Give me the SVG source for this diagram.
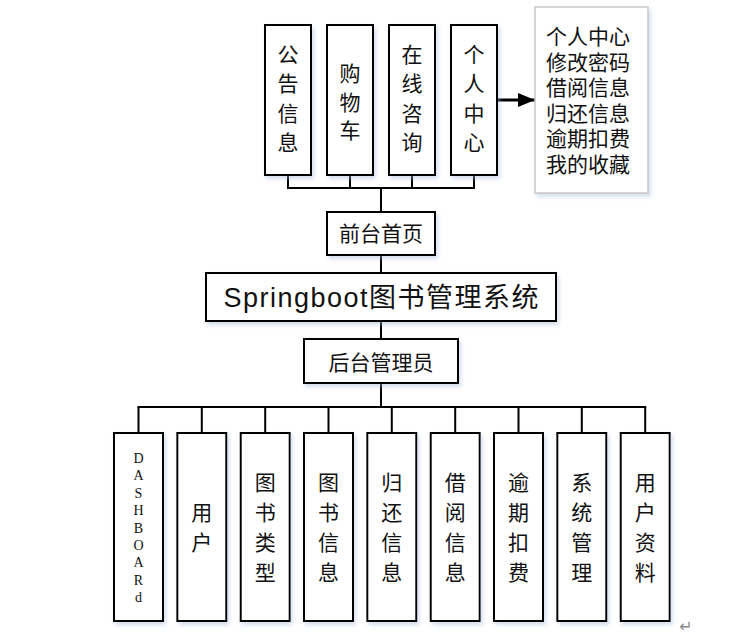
<svg xmlns="http://www.w3.org/2000/svg" width="744" height="639" viewBox="0 0 744 639">
<style>
.box{fill:#fff;stroke:#000;stroke-width:2;filter:url(#sh)}
.call{fill:#fff;stroke:#c8c8c8;stroke-width:1.5;filter:url(#sh)}
.t{font-family:"Liberation Sans","Noto Sans CJK SC","Noto Sans CJK JP",sans-serif;font-size:21px;fill:#111;text-anchor:middle}
.tl{font-family:"Liberation Sans","Noto Sans CJK SC","Noto Sans CJK JP",sans-serif;font-size:21px;fill:#111}
.m{font-family:"Liberation Serif","DejaVu Serif",serif;font-size:14px;fill:#111;text-anchor:middle}
.ln{fill:none;stroke:#000;stroke-width:2}
</style>
<defs>
<filter id="sh" x="-20%" y="-20%" width="150%" height="150%">
<feDropShadow dx="2" dy="3" stdDeviation="2" flood-color="#9fb3d9" flood-opacity="0.45"/>
</filter>
<marker id="arr" markerWidth="18" markerHeight="16" refX="17" refY="8" orient="auto" markerUnits="userSpaceOnUse">
<polygon points="0,1 17,8 0,15" fill="#000"/>
</marker>
</defs>

<g id="connectors">
<path class="ln" d="M288,175V188M350,175V188M412,175V188M474,175V188M287,188H475"/>
<path class="ln" d="M381,188V212M381,255V273M381,321V339M381,383V407"/>
<path class="ln" d="M137.5,407H646.2"/>
<path class="ln" d="M138.5,407V433M201.8,407V433M265.2,407V433M328.5,407V433M391.8,407V433M455.2,407V433M518.5,407V433M581.8,407V433M645.2,407V433"/>
<line x1="497" y1="100" x2="535" y2="100" stroke="#000" stroke-width="3" marker-end="url(#arr)"/>
</g>

<g id="n-gonggao"><rect class="box" x="265" y="25" width="46" height="150"/>
<text class="t"><tspan x="288" y="61.5">公</tspan><tspan x="288" y="91">告</tspan><tspan x="288" y="120.5">信</tspan><tspan x="288" y="150">息</tspan></text></g>
<g id="n-gouwuche"><rect class="box" x="327" y="25" width="46" height="150"/>
<text class="t"><tspan x="350" y="81">购</tspan><tspan x="350" y="109.5">物</tspan><tspan x="350" y="138">车</tspan></text></g>
<g id="n-zixun"><rect class="box" x="389" y="25" width="46" height="150"/>
<text class="t"><tspan x="412" y="61.5">在</tspan><tspan x="412" y="91">线</tspan><tspan x="412" y="120.5">咨</tspan><tspan x="412" y="150">询</tspan></text></g>
<g id="n-geren"><rect class="box" x="451" y="25" width="46" height="150"/>
<text class="t"><tspan x="474" y="61.5">个</tspan><tspan x="474" y="91">人</tspan><tspan x="474" y="120.5">中</tspan><tspan x="474" y="150">心</tspan></text></g>

<g id="n-geren-detail"><rect class="call" x="535" y="7" width="113" height="186"/>
<text class="tl"><tspan x="546" y="44">个人中心</tspan><tspan x="546" y="69.6">修改密码</tspan><tspan x="546" y="95.2">借阅信息</tspan><tspan x="546" y="120.8">归还信息</tspan><tspan x="546" y="146.4">逾期扣费</tspan><tspan x="546" y="172">我的收藏</tspan></text></g>

<g id="n-qiantai"><rect class="box" x="327" y="212" width="108" height="43"/>
<text class="t" x="381" y="241">前台首页</text></g>

<g id="n-title"><rect class="box" x="206" y="273" width="350" height="48"/>
<text x="381" y="307" text-anchor="middle" textLength="315" lengthAdjust="spacing" style="font-family:'Liberation Sans','Noto Sans CJK SC','Noto Sans CJK JP',sans-serif;font-size:27px;fill:#111">Springboot图书管理系统</text></g>

<g id="n-houtai"><rect class="box" x="304" y="339" width="154" height="44"/>
<text class="t" x="381" y="369.5">后台管理员</text></g>

<g id="n-dashboard"><rect class="box" x="114" y="433" width="49" height="188"/>
<text class="m"><tspan x="138.5" y="463">D</tspan><tspan x="138.5" y="480.4">A</tspan><tspan x="138.5" y="497.8">S</tspan><tspan x="138.5" y="515.2">H</tspan><tspan x="138.5" y="532.6">B</tspan><tspan x="138.5" y="550">O</tspan><tspan x="138.5" y="567.4">A</tspan><tspan x="138.5" y="584.8">R</tspan><tspan x="138.5" y="602.2">d</tspan></text></g>
<g id="n-yonghu"><rect class="box" x="177.3" y="433" width="49" height="188"/>
<text class="t"><tspan x="201.8" y="520">用</tspan><tspan x="201.8" y="550">户</tspan></text></g>
<g id="n-tushuleixing"><rect class="box" x="240.7" y="433" width="49" height="188"/>
<text class="t"><tspan x="265.2" y="490">图</tspan><tspan x="265.2" y="520">书</tspan><tspan x="265.2" y="550">类</tspan><tspan x="265.2" y="580">型</tspan></text></g>
<g id="n-tushuxinxi"><rect class="box" x="304" y="433" width="49" height="188"/>
<text class="t"><tspan x="328.5" y="490">图</tspan><tspan x="328.5" y="520">书</tspan><tspan x="328.5" y="550">信</tspan><tspan x="328.5" y="580">息</tspan></text></g>
<g id="n-guihuan"><rect class="box" x="367.3" y="433" width="49" height="188"/>
<text class="t"><tspan x="391.8" y="490">归</tspan><tspan x="391.8" y="520">还</tspan><tspan x="391.8" y="550">信</tspan><tspan x="391.8" y="580">息</tspan></text></g>
<g id="n-jieyue"><rect class="box" x="430.7" y="433" width="49" height="188"/>
<text class="t"><tspan x="455.2" y="490">借</tspan><tspan x="455.2" y="520">阅</tspan><tspan x="455.2" y="550">信</tspan><tspan x="455.2" y="580">息</tspan></text></g>
<g id="n-yuqi"><rect class="box" x="494" y="433" width="49" height="188"/>
<text class="t"><tspan x="518.5" y="490">逾</tspan><tspan x="518.5" y="520">期</tspan><tspan x="518.5" y="550">扣</tspan><tspan x="518.5" y="580">费</tspan></text></g>
<g id="n-xitong"><rect class="box" x="557.3" y="433" width="49" height="188"/>
<text class="t"><tspan x="581.8" y="490">系</tspan><tspan x="581.8" y="520">统</tspan><tspan x="581.8" y="550">管</tspan><tspan x="581.8" y="580">理</tspan></text></g>
<g id="n-ziliao"><rect class="box" x="620.7" y="433" width="49" height="188"/>
<text class="t"><tspan x="645.2" y="490">用</tspan><tspan x="645.2" y="520">户</tspan><tspan x="645.2" y="550">资</tspan><tspan x="645.2" y="580">料</tspan></text></g>

<text x="686" y="632" text-anchor="middle" style="font-family:'DejaVu Sans',sans-serif;font-size:16px;fill:#8a8a8a">↵</text>
</svg>
